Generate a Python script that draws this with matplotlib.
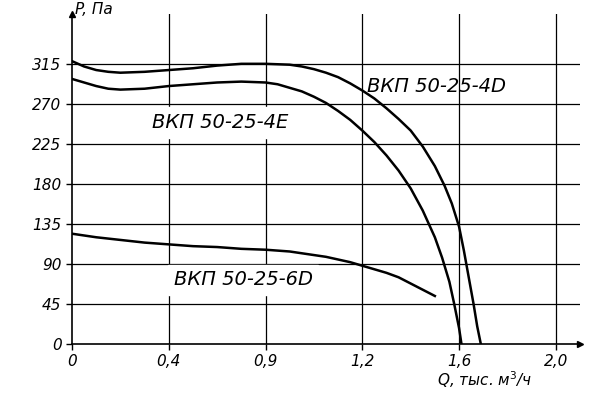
import matplotlib
matplotlib.use('Agg')
import matplotlib.pyplot as plt
import numpy as np

# curve data (Q in thousand m3/h, P in Pa)
q_4d = [0, 0.05, 0.1, 0.15, 0.2, 0.3, 0.4, 0.5, 0.6, 0.7, 0.8, 0.9, 0.95, 1.0, 1.05, 1.1, 1.15, 1.2,
        1.25, 1.3, 1.35, 1.4, 1.45, 1.5, 1.54, 1.57, 1.6, 1.62, 1.64, 1.66, 1.675, 1.69]
p_4d = [318, 312, 308, 306, 305, 306, 308, 310, 313, 315, 315, 314, 312, 309, 305, 300, 293, 285,
        276, 265, 253, 240, 222, 200, 178, 158, 132, 105, 75, 45, 20, 0]
q_4e = [0, 0.05, 0.1, 0.15, 0.2, 0.3, 0.4, 0.5, 0.6, 0.7, 0.8, 0.85, 0.9, 0.95, 1.0, 1.05, 1.1, 1.15,
        1.2, 1.25, 1.3, 1.35, 1.4, 1.45, 1.5, 1.53, 1.56, 1.58, 1.6, 1.61]
p_4e = [298, 294, 290, 287, 286, 287, 290, 292, 294, 295, 294, 292, 288, 284, 278, 271, 262, 252,
        240, 227, 212, 195, 175, 150, 120, 97, 70, 45, 18, 0]
q_6d = [0, 0.1, 0.2, 0.3, 0.4, 0.5, 0.6, 0.7, 0.8, 0.9, 1.0, 1.05, 1.1, 1.15, 1.2, 1.25, 1.3, 1.35,
        1.4, 1.45, 1.5]
p_6d = [124, 120, 117, 114, 112, 110, 109, 107, 106, 104, 100, 98, 95, 92, 88, 84, 80, 75,
        68, 61, 54]

x_ticks = [0, 0.4, 0.8, 1.2, 1.6, 2.0]
x_labels = ['0', '0,4', '0,9', '1,2', '1,6', '2,0']
y_ticks = [0, 45, 90, 135, 180, 225, 270, 315]

fig = plt.figure(figsize=(5.9, 4.0), dpi=100)
ax = fig.add_axes([72/590, 56/400, 508/590, 330/400])
ax.set_xlim(0, 2.1)
ax.set_ylim(0, 371)

for x in x_ticks[1:]:
    ax.axvline(x, color='black', lw=0.9)
for y in y_ticks[1:]:
    ax.axhline(y, color='black', lw=0.9)

for q, p in [(q_4d, p_4d), (q_4e, p_4e), (q_6d, p_6d)]:
    ax.plot(q, p, color='black', lw=1.8, solid_joinstyle='round')

ax.set_xticks(x_ticks)
ax.set_xticklabels(x_labels, fontstyle='italic', fontsize=11)
ax.set_yticks(y_ticks)
ax.set_yticklabels([str(v) for v in y_ticks], fontstyle='italic', fontsize=11)
ax.tick_params(length=4, width=1, direction='out')

for s in ['top', 'right']:
    ax.spines[s].set_visible(False)
ax.spines['left'].set_linewidth(1.2)
ax.spines['bottom'].set_linewidth(1.2)
ax.plot(1, 0, '>', color='black', ms=5, transform=ax.transAxes, clip_on=False)
ax.plot(0, 1, '^', color='black', ms=5, transform=ax.transAxes, clip_on=False)

ax.text(1.22, 290, 'ВКП 50-25-4D', fontsize=14, fontstyle='italic', va='center')
ax.text(0.33, 249, 'ВКП 50-25-4E', fontsize=14, fontstyle='italic', va='center', backgroundcolor='white')
ax.text(0.42, 72, 'ВКП 50-25-6D', fontsize=14, fontstyle='italic', va='center', backgroundcolor='white')

fig.text(75/590, 1 - 10/400, 'P, Па', fontsize=11, fontstyle='italic', va='center')
fig.text(437/590, 1 - 380/400, 'Q, тыс. м$^3$/ч', fontsize=11, fontstyle='italic', va='center')

fig.savefig('out.png', dpi=100, facecolor='white')
